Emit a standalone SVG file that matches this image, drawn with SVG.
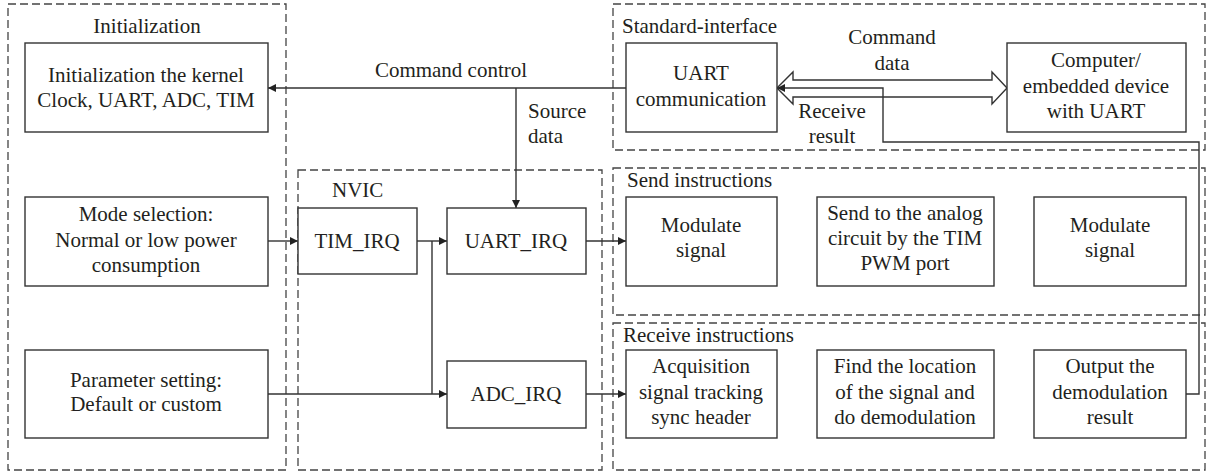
<svg xmlns="http://www.w3.org/2000/svg" width="1207" height="473" viewBox="0 0 1207 473">
  <defs>
    <style>
      text { font-family: "Liberation Serif", "Times New Roman", serif; font-size: 21px; fill: #231f20; }
      .c { text-anchor: middle; }
      .box { fill: #ffffff; stroke: #333333; stroke-width: 1.4; }
      .region { fill: none; stroke: #444444; stroke-width: 1.3; stroke-dasharray: 8 4; }
      .wire { fill: none; stroke: #333333; stroke-width: 1.4; }
      .hollow { fill: #ffffff; stroke: #333333; stroke-width: 1.4; stroke-linejoin: miter; }
    </style>
    <marker id="arrow" viewBox="0 0 10 10" refX="10" refY="5" markerWidth="8" markerHeight="8" markerUnits="userSpaceOnUse" orient="auto">
      <path d="M0,0 L10,5 L0,10 z" fill="#222222"/>
    </marker>
  </defs>

  <!-- dashed regions -->
  <g id="regions">
    <rect id="region-init" class="region" x="8" y="4" width="278" height="466"/>
    <rect id="region-nvic" class="region" x="298" y="170" width="304" height="300"/>
    <rect id="region-std" class="region" x="613" y="4" width="592" height="146"/>
    <rect id="region-send" class="region" x="613" y="168" width="592" height="147"/>
    <rect id="region-recv" class="region" x="613" y="323" width="592" height="147"/>
    <text x="147" y="33" class="c">Initialization</text>
    <text x="332" y="197">NVIC</text>
    <text x="622" y="33">Standard-interface</text>
    <text x="627" y="187">Send instructions</text>
    <text x="623" y="342">Receive instructions</text>
  </g>

  <!-- connectors -->
  <g id="connectors">
    <line class="wire" x1="626" y1="88" x2="268" y2="88" marker-end="url(#arrow)"/>
    <line class="wire" x1="516" y1="88" x2="516" y2="208" marker-end="url(#arrow)"/>
    <line class="wire" x1="268" y1="241" x2="298" y2="241" marker-end="url(#arrow)"/>
    <line class="wire" x1="417" y1="241" x2="447" y2="241" marker-end="url(#arrow)"/>
    <line class="wire" x1="432" y1="241" x2="432" y2="394"/>
    <line class="wire" x1="268" y1="394" x2="447" y2="394" marker-end="url(#arrow)"/>
    <line class="wire" x1="586" y1="241" x2="626" y2="241" marker-end="url(#arrow)"/>
    <line class="wire" x1="586" y1="394" x2="626" y2="394" marker-end="url(#arrow)"/>
    <!-- command data, both ways -->
    <polygon class="hollow" points="777,88 793,72 793,80 992,80 992,72 1007,88 992,104 992,97 793,97 793,104"/>
    <!-- result returned to the UART -->
    <polyline class="wire" points="1186,394 1199,394 1199,142 883,142 883,88 777,88" marker-end="url(#arrow)"/>
    <text x="451" y="77" class="c">Command control</text>
    <text x="528" y="118">Source</text>
    <text x="528" y="143">data</text>
    <text x="892" y="44" class="c">Command</text>
    <text x="892" y="70" class="c">data</text>
    <text x="832" y="118" class="c">Receive</text>
    <text x="832" y="143" class="c">result</text>
  </g>

  <!-- initialization nodes -->
  <g id="node-init-kernel">
    <rect class="box" x="25" y="43" width="243" height="89"/>
    <text x="146" y="82" class="c">Initialization the kernel</text>
    <text x="146" y="107" class="c">Clock, UART, ADC, TIM</text>
  </g>
  <g id="node-mode">
    <rect class="box" x="25" y="197" width="243" height="89"/>
    <text x="146" y="221" class="c">Mode selection:</text>
    <text x="146" y="247" class="c">Normal or low power</text>
    <text x="146" y="272" class="c">consumption</text>
  </g>
  <g id="node-param">
    <rect class="box" x="25" y="350" width="243" height="88"/>
    <text x="146" y="387" class="c">Parameter setting:</text>
    <text x="146" y="411" class="c">Default or custom</text>
  </g>

  <!-- NVIC nodes -->
  <g id="node-tim-irq">
    <rect class="box" x="298" y="208" width="119" height="66"/>
    <text x="357" y="248" class="c">TIM_IRQ</text>
  </g>
  <g id="node-uart-irq">
    <rect class="box" x="447" y="208" width="139" height="66"/>
    <text x="516" y="248" class="c">UART_IRQ</text>
  </g>
  <g id="node-adc-irq">
    <rect class="box" x="447" y="361" width="139" height="67"/>
    <text x="516" y="401" class="c">ADC_IRQ</text>
  </g>

  <!-- standard interface nodes -->
  <g id="node-uart-comm">
    <rect class="box" x="626" y="43" width="151" height="89"/>
    <text x="701" y="80" class="c">UART</text>
    <text x="701" y="106" class="c">communication</text>
  </g>
  <g id="node-computer">
    <rect class="box" x="1007" y="43" width="179" height="89"/>
    <text x="1096" y="67" class="c">Computer/</text>
    <text x="1096" y="93" class="c">embedded device</text>
    <text x="1096" y="118" class="c">with UART</text>
  </g>

  <!-- send instruction nodes -->
  <g id="node-modulate-1">
    <rect class="box" x="626" y="197" width="151" height="89"/>
    <text x="701" y="232" class="c">Modulate</text>
    <text x="701" y="257" class="c">signal</text>
  </g>
  <g id="node-send-pwm">
    <rect class="box" x="817" y="197" width="177" height="89"/>
    <text x="905" y="220" class="c">Send to the analog</text>
    <text x="905" y="245" class="c">circuit by the TIM</text>
    <text x="905" y="270" class="c">PWM port</text>
  </g>
  <g id="node-modulate-2">
    <rect class="box" x="1034" y="197" width="152" height="89"/>
    <text x="1110" y="232" class="c">Modulate</text>
    <text x="1110" y="257" class="c">signal</text>
  </g>

  <!-- receive instruction nodes -->
  <g id="node-acquisition">
    <rect class="box" x="626" y="350" width="151" height="88"/>
    <text x="701" y="373" class="c">Acquisition</text>
    <text x="701" y="399" class="c">signal tracking</text>
    <text x="701" y="424" class="c">sync header</text>
  </g>
  <g id="node-find">
    <rect class="box" x="817" y="350" width="177" height="88"/>
    <text x="905" y="373" class="c">Find the location</text>
    <text x="905" y="399" class="c">of the signal and</text>
    <text x="905" y="424" class="c">do demodulation</text>
  </g>
  <g id="node-output">
    <rect class="box" x="1034" y="350" width="152" height="88"/>
    <text x="1110" y="373" class="c">Output the</text>
    <text x="1110" y="399" class="c">demodulation</text>
    <text x="1110" y="424" class="c">result</text>
  </g>
</svg>
